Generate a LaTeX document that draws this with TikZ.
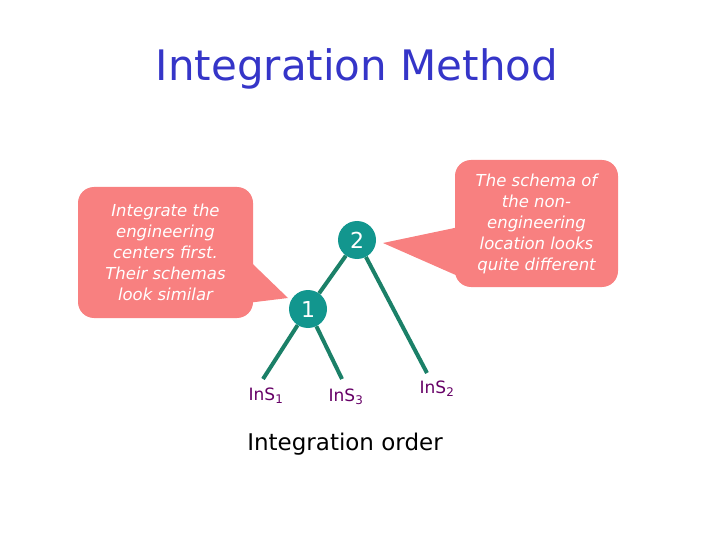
\documentclass[tikz,border=0pt]{standalone}
\usepackage{fontspec}
\setmainfont{DejaVu Sans}
\usetikzlibrary{backgrounds,calc}
\definecolor{titleblue}{HTML}{3535C8}
\definecolor{salmon}{HTML}{F88080}
\definecolor{nodeteal}{HTML}{12968E}
\definecolor{edgegreen}{HTML}{1B8068}
\definecolor{leafpurple}{HTML}{660066}
\tikzset{
  callout/.style={fill=salmon, rounded corners=16pt, text=white, align=center,
    font=\fontsize{16.5}{21}\selectfont\itshape, inner sep=0pt},
  treenode/.style={circle, fill=nodeteal, text=white, minimum size=38pt, inner sep=0pt,
    font=\fontsize{22}{26}\selectfont},
  edge/.style={draw=edgegreen, line width=4pt},
  leaf/.style={text=leafpurple, font=\fontsize{17}{20}\selectfont, inner sep=0pt}
}
\begin{document}
\begin{tikzpicture}[x=1pt,y=-1pt]
\useasboundingbox (0,0) rectangle (720,540);
\node[text=titleblue, font=\fontsize{42}{48}\selectfont] (title) at (357,69) {Integration Method};

\node[callout, minimum width=175pt, minimum height=131pt] (L) at (165.5,252.5)
  {Integrate the\\engineering\\centers first.\\Their schemas\\look similar};
\fill[salmon] ($(L.east)+(-2,10)$) -- (288,298) coordinate (Ltip) -- ($(L.east)+(-2,50)$) -- cycle;

\node[callout, minimum width=163pt, minimum height=127pt] (R) at (536.5,223.5)
  {The schema of\\the non-\\engineering\\location looks\\quite different};
\fill[salmon] ($(R.west)+(2,4)$) -- (383,243) coordinate (Rtip) -- ($(R.west)+(2,52)$) -- cycle;

\node[treenode] (n2) at (357,240) {2};
\node[treenode] (n1) at (308,309) {1};

\coordinate (e1) at (263,379);
\coordinate (e3) at (342,379);
\coordinate (e2) at (427,373);

\node[leaf] (s1) at (266,396) {InS\textsubscript{1}};
\node[leaf] (s3) at (346,397) {InS\textsubscript{3}};
\node[leaf] (s2) at (437,389) {InS\textsubscript{2}};

\node[font=\fontsize{23}{27}\selectfont] (order) at (345,444) {Integration order};

\begin{scope}[on background layer]
\draw[edge] (n2) -- (n1);
\draw[edge] (n2) -- (e2);
\draw[edge] (n1) -- (e1);
\draw[edge] (n1) -- (e3);
\end{scope}
\end{tikzpicture}
\end{document}
